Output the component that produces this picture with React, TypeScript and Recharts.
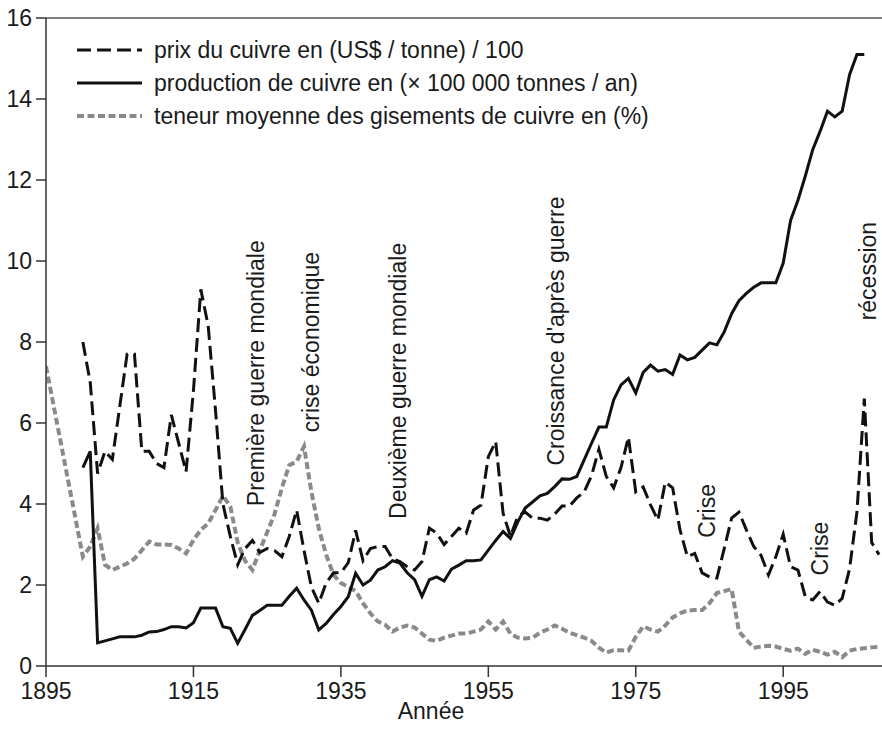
import React from 'react';
import {
  LineChart,
  Line,
  XAxis,
  YAxis,
  Legend,
  ReferenceLine,
  ReferenceDot,
} from 'recharts';

// Years on the horizontal axis (the grade series also has a 1895 value)
const years = [
  1895,
  1900, 1901, 1902, 1903, 1904, 1905, 1906, 1907, 1908, 1909,
  1910, 1911, 1912, 1913, 1914, 1915, 1916, 1917, 1918, 1919,
  1920, 1921, 1922, 1923, 1924, 1925, 1926, 1927, 1928, 1929,
  1930, 1931, 1932, 1933, 1934, 1935, 1936, 1937, 1938, 1939,
  1940, 1941, 1942, 1943, 1944, 1945, 1946, 1947, 1948, 1949,
  1950, 1951, 1952, 1953, 1954, 1955, 1956, 1957, 1958, 1959,
  1960, 1961, 1962, 1963, 1964, 1965, 1966, 1967, 1968, 1969,
  1970, 1971, 1972, 1973, 1974, 1975, 1976, 1977, 1978, 1979,
  1980, 1981, 1982, 1983, 1984, 1985, 1986, 1987, 1988, 1989,
  1990, 1991, 1992, 1993, 1994, 1995, 1996, 1997, 1998, 1999,
  2000, 2001, 2002, 2003, 2004, 2005, 2006, 2007, 2008,
];

// prix du cuivre (US$ / tonne) / 100
const price = [
  null,
  8.0, 7.0, 4.75, 5.3, 5.1, 6.4, 7.7, 7.7, 5.3, 5.3,
  5.0, 4.9, 6.2, 5.5, 4.8, 6.8, 9.3, 8.4, 6.3, 4.0,
  3.2, 2.5, 2.9, 3.1, 2.8, 2.9, 2.85, 2.7, 3.2, 3.85,
  2.85, 1.95, 1.55, 2.05, 2.3, 2.3, 2.55, 3.35, 2.6, 2.9,
  2.95, 2.95, 2.65, 2.58, 2.45, 2.37, 2.58, 3.4, 3.28, 3.0,
  3.2, 3.4, 3.28, 3.85, 3.97, 5.17, 5.54, 3.77, 3.2, 3.7,
  3.8, 3.65, 3.65, 3.6, 3.75, 3.95, 3.95, 4.15, 4.3, 4.7,
  5.35, 4.68, 4.4, 4.9, 5.65, 4.3, 4.42, 3.98, 3.6, 4.54,
  4.4, 3.36, 2.7, 2.78, 2.3, 2.2, 2.17, 2.9, 3.65, 3.8,
  3.36, 2.95, 2.73, 2.25, 2.7, 3.25, 2.45, 2.37, 1.71, 1.63,
  1.84, 1.58, 1.5, 1.67, 2.4, 3.8, 6.6, 3.05, 2.75,
];

// production de cuivre (x 100 000 tonnes / an)
const production = [
  null,
  4.9, 5.3, 0.57, 0.62, 0.67, 0.72, 0.72, 0.72, 0.76, 0.84,
  0.85, 0.9, 0.97, 0.97, 0.94, 1.07, 1.43, 1.43, 1.43, 0.97,
  0.93, 0.56, 0.9, 1.25, 1.37, 1.5, 1.5, 1.5, 1.72, 1.92,
  1.63, 1.38, 0.89, 1.05, 1.27, 1.47, 1.71, 2.29, 2.0, 2.12,
  2.37, 2.45, 2.6, 2.54, 2.3, 2.13, 1.72, 2.13, 2.2, 2.1,
  2.39, 2.49, 2.6, 2.6, 2.62, 2.86, 3.1, 3.32, 3.15, 3.56,
  3.9, 4.05, 4.2, 4.26, 4.43, 4.62, 4.61, 4.68, 5.09, 5.5,
  5.9, 5.9, 6.57, 6.94, 7.1, 6.74, 7.25, 7.43, 7.28, 7.32,
  7.2, 7.68, 7.56, 7.62, 7.8, 7.98, 7.93, 8.25, 8.7, 9.02,
  9.2, 9.35, 9.46, 9.46, 9.46, 9.95, 11.0, 11.5, 12.1, 12.75,
  13.2, 13.7, 13.56, 13.7, 14.6, 15.1, 15.1, null, null,
];

// teneur moyenne des gisements (%)
const grade = [
  7.4,
  2.7, 2.95, 3.4, 2.5, 2.37, 2.45, 2.53, 2.65, 2.86, 3.07,
  3.0, 3.0, 2.99, 2.9, 2.78, 3.11, 3.36, 3.52, 3.85, 4.2,
  3.94, 3.05, 2.6, 2.37, 2.86, 3.3, 3.75, 4.4, 4.96, 5.05,
  5.42, 4.3, 3.4, 2.75, 2.25, 2.05, 1.95, 1.85, 1.55, 1.3,
  1.1, 1.02, 0.85, 0.95, 1.0, 0.95, 0.8, 0.65, 0.62, 0.7,
  0.75, 0.8, 0.8, 0.85, 0.9, 1.1, 0.9, 1.1, 0.8, 0.7,
  0.68, 0.7, 0.82, 0.9, 1.0, 0.92, 0.82, 0.76, 0.7, 0.62,
  0.45, 0.33, 0.39, 0.39, 0.38, 0.72, 0.98, 0.9, 0.85, 1.0,
  1.2, 1.3, 1.37, 1.38, 1.38, 1.55, 1.8, 1.85, 1.9, 0.85,
  0.65, 0.45, 0.48, 0.5, 0.48, 0.42, 0.38, 0.43, 0.3, 0.4,
  0.35, 0.28, 0.35, 0.22, 0.38, 0.42, 0.44, 0.46, 0.47,
];

const xTicks = [1895, 1915, 1935, 1955, 1975, 1995];
const yTicks = [0, 2, 4, 6, 8, 10, 12, 14, 16];

// Rotated event labels, anchored at their centre in data coordinates
const annotations = [
  { text: 'Première guerre mondiale', year: 1923.5, value: 7.23 },
  { text: 'crise économique', year: 1931.0, value: 8.0 },
  { text: 'Deuxième guerre mondiale', year: 1942.8, value: 7.04 },
  { text: "Croissance d'après guerre", year: 1964.2, value: 8.27 },
  { text: 'Crise', year: 1984.7, value: 3.83 },
  { text: 'Crise', year: 2000.0, value: 2.9 },
  { text: 'récession', year: 2006.5, value: 9.75 },
];

const data = years.map((year, i) => ({
  year,
  price: price[i],
  production: production[i],
  grade: grade[i],
}));

const FONT = '"Liberation Sans", Arial, Helvetica, sans-serif';
const FS = 23;

const legendItems = [
  { label: 'prix du cuivre en (US$ / tonne) / 100', stroke: '#111', width: 3, dash: '14 6' },
  { label: 'production de cuivre en (\u00d7 100 000 tonnes / an)', stroke: '#111', width: 3, dash: undefined },
  { label: 'teneur moyenne des gisements de cuivre en (%)', stroke: '#8a8a8a', width: 4, dash: '7 3.5' },
];

const renderLegend = () => (
  <svg width={640} height={100} style={{ display: 'block', overflow: 'visible' }}>
    {legendItems.map((item, i) => (
      <g key={i}>
        <line
          x1={0}
          x2={65}
          y1={14 + i * 33}
          y2={14 + i * 33}
          stroke={item.stroke}
          strokeWidth={item.width}
          strokeDasharray={item.dash}
        />
        <text
          x={77}
          y={14 + i * 33}
          dominantBaseline="central"
          fontSize={FS}
          fontFamily={FONT}
          fill="#1a1a1a"
        >
          {item.label}
        </text>
      </g>
    ))}
  </svg>
);

const rotatedLabel = (text: string) => (props: any) => (
  <text
    x={props.cx}
    y={props.cy}
    transform={`rotate(-90, ${props.cx}, ${props.cy})`}
    textAnchor="middle"
    dominantBaseline="central"
    fontSize={FS}
    fontFamily={FONT}
    fill="#1a1a1a"
  >
    {text}
  </text>
);

const xAxisTitle = (props: any) => {
  const vb = props.viewBox || { x: 46, y: 666, width: 836 };
  return (
    <text
      x={vb.x + vb.width / 2 - 33}
      y={vb.y + 53}
      textAnchor="middle"
      fontSize={FS}
      fontFamily={FONT}
      fill="#1a1a1a"
    >
      Année
    </text>
  );
};

export default function App() {
  return (
    <div style={{ width: 882, height: 732, fontFamily: FONT, background: '#fff' }}>
      <style>{'body{margin:0;background:#fff}'}</style>
      <LineChart
        width={882}
        height={732}
        data={data}
        margin={{ top: 18, right: 0, bottom: 0, left: 0 }}
      >
        <XAxis
          dataKey="year"
          type="number"
          domain={[1895, 2008.4]}
          ticks={xTicks}
          allowDataOverflow
          height={66}
          tickSize={11}
          tickMargin={6}
          stroke="#333"
          strokeWidth={1.5}
          tick={{ fill: '#1a1a1a', fontSize: FS, fontFamily: FONT }}
          label={{ content: xAxisTitle }}
        />
        <YAxis
          type="number"
          domain={[0, 16]}
          ticks={yTicks}
          width={46}
          tickSize={10}
          tickMargin={4}
          stroke="#333"
          strokeWidth={1.5}
          tick={{ fill: '#1a1a1a', fontSize: FS, fontFamily: FONT }}
        />
        <ReferenceLine y={16} stroke="#555" strokeWidth={1.5} />
        <Line
          dataKey="grade"
          type="linear"
          stroke="#8a8a8a"
          strokeWidth={4}
          strokeDasharray="7 3.5"
          dot={false}
          activeDot={false}
          isAnimationActive={false}
        />
        <Line
          dataKey="price"
          type="linear"
          stroke="#111"
          strokeWidth={3}
          strokeDasharray="14 6"
          dot={false}
          activeDot={false}
          isAnimationActive={false}
        />
        <Line
          dataKey="production"
          type="linear"
          stroke="#111"
          strokeWidth={3}
          dot={false}
          activeDot={false}
          isAnimationActive={false}
        />
        {annotations.map((a, i) => (
          <ReferenceDot
            key={i}
            x={a.year}
            y={a.value}
            r={0}
            shape={rotatedLabel(a.text)}
          />
        ))}
        <Legend
          layout="vertical"
          align="center"
          verticalAlign="middle"
          content={renderLegend}
          wrapperStyle={{ left: 77, top: 36, width: 640, height: 100 }}
        />
      </LineChart>
    </div>
  );
}
